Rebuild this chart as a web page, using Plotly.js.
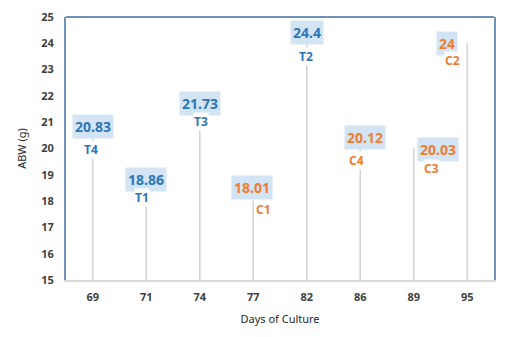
<!DOCTYPE html>
<html><head><meta charset="utf-8">
<script src="https://cdn.plot.ly/plotly-3.0.1.min.js"></script>
<style>html,body{margin:0;padding:0;background:#fff}#chart{width:530px;height:337px}</style>
</head><body><div id="chart"></div>
<script>
// data
const days = ['69','71','74','77','82','86','89','95'];
const abw = [20.83, 18.86, 21.73, 18.01, 24.4, 20.12, 20.03, 24];
const groups = ['T4','T1','T3','C1','T2','C4','C3','C2'];
const yBase = 15;

// label placement (pixels) : [valueX, valueY, nameX, nameY]
const offsets = [
  [0, 0, -2, -23],
  [0, -1, -4, -19],
  [0, 0, 1, -18],
  [-1, 13, 10, -9],
  [0, 0, -1, -24],
  [5, 8, -4, -15],
  [24, -2, 18, -21],
  [-20, 0, -15, -17]
];
const blue = '#2e75b6', orange = '#ed7d31';
const colorOf = g => g[0] === 'T' ? blue : orange;

const trace = {
  type: 'scatter', mode: 'markers',
  x: days, y: abw,
  marker: {size: 1, color: 'rgba(0,0,0,0)'},
  error_y: {type: 'data', symmetric: false,
    array: abw.map(() => 0), arrayminus: abw.map(v => v - yBase),
    color: '#d4d4d4', thickness: 1.6, width: 0},
  hoverinfo: 'x+y', showlegend: false
};

const annotations = [];
days.forEach((d, i) => {
  const o = offsets[i];
  annotations.push({x: i, y: abw[i], xref: 'x', yref: 'y', text: '<b>' + abw[i] + '</b>',
    showarrow: false, xshift: o[0], yshift: o[1],
    font: {family: 'Noto Sans, sans-serif', size: 14, color: colorOf(groups[i])},
    bgcolor: '#d3e4f4', borderpad: 2});
  annotations.push({x: i, y: abw[i], xref: 'x', yref: 'y', text: '<b>' + groups[i] + '</b>',
    showarrow: false, xshift: o[2], yshift: o[3],
    font: {family: 'Noto Sans, sans-serif', size: 12, color: colorOf(groups[i])},
    bgcolor: '#ffffff', borderpad: 0});
});

const layout = {
  width: 530, height: 337,
  margin: {l: 66, r: 36, t: 17, b: 57},
  paper_bgcolor: '#fff', plot_bgcolor: '#fff',
  xaxis: {type: 'category', range: [-0.5, 7.5], showgrid: false, zeroline: false,
    showline: true, linecolor: '#d9d9d9', linewidth: 1.5, ticks: '',
    ticklabelstandoff: 6,
    tickfont: {family: 'Noto Sans, sans-serif', size: 11, color: '#404040', weight: 'bold'},
    title: {text: 'Days of Culture', standoff: 12,
      font: {family: 'Noto Sans, sans-serif', size: 11, color: '#262626'}}},
  yaxis: {range: [15, 25], dtick: 1, showgrid: false, zeroline: false,
    showline: true, mirror: true, linecolor: '#6d93bb', linewidth: 2, ticks: '',
    ticklabelstandoff: 8,
    tickfont: {family: 'Noto Sans, sans-serif', size: 11, color: '#404040', weight: 'bold'},
    title: {text: 'ABW (g)', standoff: 12,
      font: {family: 'Noto Sans, sans-serif', size: 11, color: '#262626'}}},
  shapes: [{type: 'line', xref: 'paper', yref: 'paper', x0: 0, x1: 1, y0: 1, y1: 1,
    line: {color: '#6d93bb', width: 2}}],
  annotations: annotations
};
Plotly.newPlot('chart', [trace], layout, {displayModeBar: false, staticPlot: true});
</script></body></html>
